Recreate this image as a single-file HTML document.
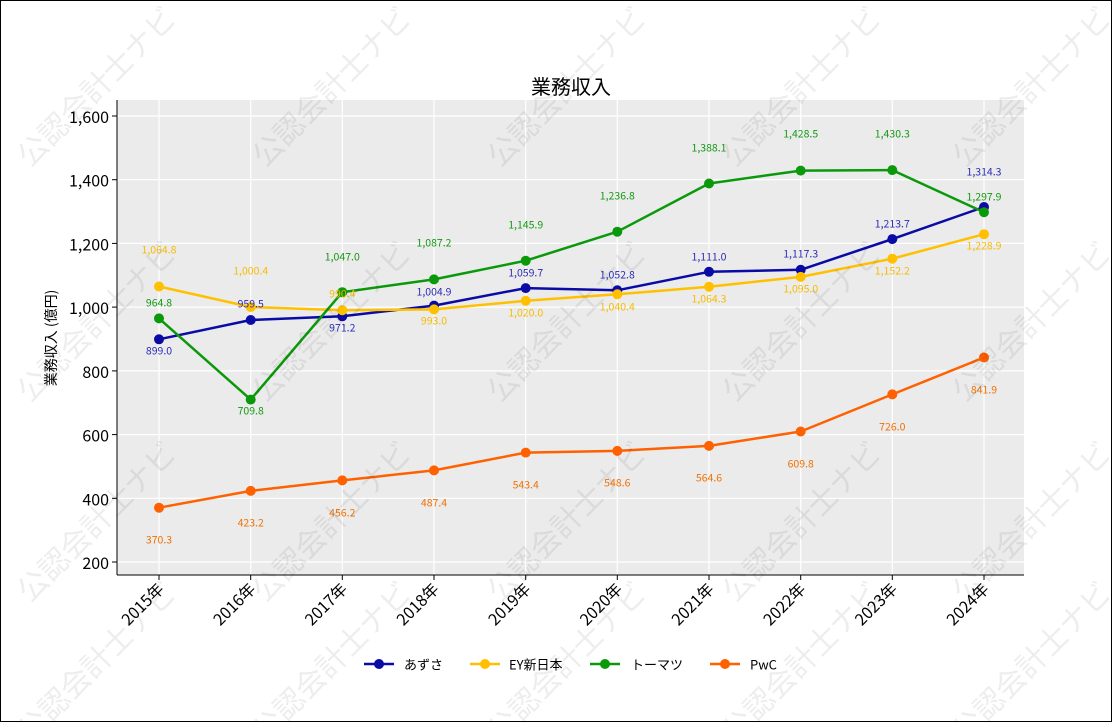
<!DOCTYPE html>
<html><head><meta charset="utf-8"><style>
html,body{margin:0;padding:0;background:#fff;}
svg{display:block;font-family:"Noto Sans CJK JP","Liberation Sans",sans-serif;}
</style></head><body>
<svg width="1112" height="722" viewBox="0 0 1112 722" xmlns="http://www.w3.org/2000/svg">
<rect x="0.5" y="0.5" width="1111" height="721" fill="#fff" stroke="#000" stroke-width="1"/>
<rect x="117" y="100" width="907" height="475" fill="#ebebeb"/>
<g stroke="#fff" stroke-width="1.2">
<line x1="117" x2="1024" y1="116" y2="116"/><line x1="117" x2="1024" y1="179.7" y2="179.7"/><line x1="117" x2="1024" y1="243.4" y2="243.4"/><line x1="117" x2="1024" y1="307.1" y2="307.1"/><line x1="117" x2="1024" y1="370.9" y2="370.9"/><line x1="117" x2="1024" y1="434.6" y2="434.6"/><line x1="117" x2="1024" y1="498.3" y2="498.3"/><line x1="117" x2="1024" y1="562" y2="562"/>
<line y1="100" y2="575" x1="159" x2="159"/><line y1="100" y2="575" x1="250.7" x2="250.7"/><line y1="100" y2="575" x1="342.3" x2="342.3"/><line y1="100" y2="575" x1="434" x2="434"/><line y1="100" y2="575" x1="525.7" x2="525.7"/><line y1="100" y2="575" x1="617.3" x2="617.3"/><line y1="100" y2="575" x1="709" x2="709"/><line y1="100" y2="575" x1="800.7" x2="800.7"/><line y1="100" y2="575" x1="892.3" x2="892.3"/><line y1="100" y2="575" x1="984" x2="984"/>
</g>
<g stroke="#000" stroke-width="1">
<line x1="117" y1="100" x2="117" y2="575"/><line x1="117" y1="575" x2="1024" y2="575"/>
<line x1="112" x2="117" y1="116" y2="116"/><line x1="112" x2="117" y1="179.7" y2="179.7"/><line x1="112" x2="117" y1="243.4" y2="243.4"/><line x1="112" x2="117" y1="307.1" y2="307.1"/><line x1="112" x2="117" y1="370.9" y2="370.9"/><line x1="112" x2="117" y1="434.6" y2="434.6"/><line x1="112" x2="117" y1="498.3" y2="498.3"/><line x1="112" x2="117" y1="562" y2="562"/>
<line y1="575" y2="580" x1="159" x2="159"/><line y1="575" y2="580" x1="250.7" x2="250.7"/><line y1="575" y2="580" x1="342.3" x2="342.3"/><line y1="575" y2="580" x1="434" x2="434"/><line y1="575" y2="580" x1="525.7" x2="525.7"/><line y1="575" y2="580" x1="617.3" x2="617.3"/><line y1="575" y2="580" x1="709" x2="709"/><line y1="575" y2="580" x1="800.7" x2="800.7"/><line y1="575" y2="580" x1="892.3" x2="892.3"/><line y1="575" y2="580" x1="984" x2="984"/>
</g>
<g font-size="16" fill="#000" text-anchor="end" dominant-baseline="central">
<text x="109" y="116">1,600</text><text x="109" y="179.7">1,400</text><text x="109" y="243.4">1,200</text><text x="109" y="307.1">1,000</text><text x="109" y="370.9">800</text><text x="109" y="434.6">600</text><text x="109" y="498.3">400</text><text x="109" y="562">200</text>
</g>
<g font-size="16" fill="#000" text-anchor="end">
<text transform="translate(165,590) rotate(-45)">2015年</text>
<text transform="translate(256.7,590) rotate(-45)">2016年</text>
<text transform="translate(348.3,590) rotate(-45)">2017年</text>
<text transform="translate(440,590) rotate(-45)">2018年</text>
<text transform="translate(531.7,590) rotate(-45)">2019年</text>
<text transform="translate(623.3,590) rotate(-45)">2020年</text>
<text transform="translate(715,590) rotate(-45)">2021年</text>
<text transform="translate(806.7,590) rotate(-45)">2022年</text>
<text transform="translate(898.3,590) rotate(-45)">2023年</text>
<text transform="translate(990,590) rotate(-45)">2024年</text>
</g>
<text x="571" y="94" font-size="20" text-anchor="middle" fill="#000">業務収入</text>
<text transform="translate(56,338) rotate(-90)" font-size="14" text-anchor="middle" fill="#000">業務収入 (億円)</text>

<g fill="none" stroke-width="2.5" stroke-linejoin="round">
<polyline stroke="#0a0aa5" points="159,339.3 250.7,320 342.3,316.3 434,305.6 525.7,288.1 617.3,290.3 709,271.8 800.7,269.8 892.3,239.1 984,207"/>
<polyline stroke="#ffc000" points="159,286.5 250.7,307 342.3,310.2 434,309.4 525.7,300.8 617.3,294.3 709,286.7 800.7,276.9 892.3,258.7 984,234.2"/>
<polyline stroke="#0a990a" points="159,318.4 250.7,399.6 342.3,292.2 434,279.4 525.7,260.7 617.3,231.7 709,183.5 800.7,170.6 892.3,170.1 984,212.2"/>
<polyline stroke="#ff6000" points="159,507.7 250.7,490.9 342.3,480.4 434,470.4 525.7,452.6 617.3,450.9 709,445.9 800.7,431.5 892.3,394.4 984,357.5"/>
</g>
<g fill="#0a0aa5"><circle cx="159" cy="339.3" r="5"/><circle cx="250.7" cy="320" r="5"/><circle cx="342.3" cy="316.3" r="5"/><circle cx="434" cy="305.6" r="5"/><circle cx="525.7" cy="288.1" r="5"/><circle cx="617.3" cy="290.3" r="5"/><circle cx="709" cy="271.8" r="5"/><circle cx="800.7" cy="269.8" r="5"/><circle cx="892.3" cy="239.1" r="5"/><circle cx="984" cy="207" r="5"/></g>
<g fill="#ffc000"><circle cx="159" cy="286.5" r="5"/><circle cx="250.7" cy="307" r="5"/><circle cx="342.3" cy="310.2" r="5"/><circle cx="434" cy="309.4" r="5"/><circle cx="525.7" cy="300.8" r="5"/><circle cx="617.3" cy="294.3" r="5"/><circle cx="709" cy="286.7" r="5"/><circle cx="800.7" cy="276.9" r="5"/><circle cx="892.3" cy="258.7" r="5"/><circle cx="984" cy="234.2" r="5"/></g>
<g fill="#0a990a"><circle cx="159" cy="318.4" r="5"/><circle cx="250.7" cy="399.6" r="5"/><circle cx="342.3" cy="292.2" r="5"/><circle cx="434" cy="279.4" r="5"/><circle cx="525.7" cy="260.7" r="5"/><circle cx="617.3" cy="231.7" r="5"/><circle cx="709" cy="183.5" r="5"/><circle cx="800.7" cy="170.6" r="5"/><circle cx="892.3" cy="170.1" r="5"/><circle cx="984" cy="212.2" r="5"/></g>
<g fill="#ff6000"><circle cx="159" cy="507.7" r="5"/><circle cx="250.7" cy="490.9" r="5"/><circle cx="342.3" cy="480.4" r="5"/><circle cx="434" cy="470.4" r="5"/><circle cx="525.7" cy="452.6" r="5"/><circle cx="617.3" cy="450.9" r="5"/><circle cx="709" cy="445.9" r="5"/><circle cx="800.7" cy="431.5" r="5"/><circle cx="892.3" cy="394.4" r="5"/><circle cx="984" cy="357.5" r="5"/></g>

<g font-size="10.5" text-anchor="middle" dominant-baseline="central">
<g fill="#2a2ab8"><text x="159" y="351">899.0</text><text x="250.7" y="304">959.5</text><text x="342.3" y="328">971.2</text><text x="434" y="292">1,004.9</text><text x="525.7" y="273">1,059.7</text><text x="617.3" y="275">1,052.8</text><text x="709" y="257">1,111.0</text><text x="800.7" y="254">1,117.3</text><text x="892.3" y="224">1,213.7</text><text x="984" y="172">1,314.3</text></g>
<g fill="#f5bb00"><text x="159" y="250">1,064.8</text><text x="250.7" y="271">1,000.4</text><text x="342.3" y="294">990.4</text><text x="434" y="321">993.0</text><text x="525.7" y="313">1,020.0</text><text x="617.3" y="307">1,040.4</text><text x="709" y="299">1,064.3</text><text x="800.7" y="289">1,095.0</text><text x="892.3" y="271">1,152.2</text><text x="984" y="246">1,228.9</text></g>
<g fill="#119911"><text x="159" y="303">964.8</text><text x="250.7" y="411">709.8</text><text x="342.3" y="257">1,047.0</text><text x="434" y="243">1,087.2</text><text x="525.7" y="225">1,145.9</text><text x="617.3" y="196">1,236.8</text><text x="709" y="148">1,388.1</text><text x="800.7" y="134">1,428.5</text><text x="892.3" y="134">1,430.3</text><text x="984" y="197">1,297.9</text></g>
<g fill="#f07000"><text x="159" y="540">370.3</text><text x="250.7" y="523">423.2</text><text x="342.3" y="513">456.2</text><text x="434" y="503">487.4</text><text x="525.7" y="485">543.4</text><text x="617.3" y="483">548.6</text><text x="709" y="478">564.6</text><text x="800.7" y="464">609.8</text><text x="892.3" y="427">726.0</text><text x="984" y="390">841.9</text></g>
</g>

<g stroke-width="2.5">
<line x1="364" x2="394" y1="664" y2="664" stroke="#0a0aa5"/><circle cx="379" cy="664" r="5" fill="#0a0aa5"/>
<line x1="470" x2="500" y1="664" y2="664" stroke="#ffc000"/><circle cx="485" cy="664" r="5" fill="#ffc000"/>
<line x1="590" x2="620" y1="664" y2="664" stroke="#0a990a"/><circle cx="605" cy="664" r="5" fill="#0a990a"/>
<line x1="710" x2="740" y1="664" y2="664" stroke="#ff6000"/><circle cx="725" cy="664" r="5" fill="#ff6000"/>
</g>
<g font-size="13" fill="#000" dominant-baseline="central">
<text x="404" y="664">あずさ</text><text x="509" y="664">EY新日本</text><text x="631" y="664">トーマツ</text><text x="750" y="664">PwC</text>
</g>

<g font-size="30" fill="#000" fill-opacity="0.07" text-anchor="middle" dominant-baseline="central">
<text transform="translate(95,85) rotate(-45)">公認会計士ナビ</text>
<text transform="translate(330,85) rotate(-45)">公認会計士ナビ</text>
<text transform="translate(565,85) rotate(-45)">公認会計士ナビ</text>
<text transform="translate(800,85) rotate(-45)">公認会計士ナビ</text>
<text transform="translate(1030,85) rotate(-45)">公認会計士ナビ</text>
<text transform="translate(95,320) rotate(-45)">公認会計士ナビ</text>
<text transform="translate(330,320) rotate(-45)">公認会計士ナビ</text>
<text transform="translate(565,320) rotate(-45)">公認会計士ナビ</text>
<text transform="translate(800,320) rotate(-45)">公認会計士ナビ</text>
<text transform="translate(1030,320) rotate(-45)">公認会計士ナビ</text>
<text transform="translate(95,520) rotate(-45)">公認会計士ナビ</text>
<text transform="translate(330,520) rotate(-45)">公認会計士ナビ</text>
<text transform="translate(565,520) rotate(-45)">公認会計士ナビ</text>
<text transform="translate(800,520) rotate(-45)">公認会計士ナビ</text>
<text transform="translate(1030,520) rotate(-45)">公認会計士ナビ</text>
<text transform="translate(95,660) rotate(-45)">公認会計士ナビ</text>
<text transform="translate(330,660) rotate(-45)">公認会計士ナビ</text>
<text transform="translate(565,660) rotate(-45)">公認会計士ナビ</text>
<text transform="translate(800,660) rotate(-45)">公認会計士ナビ</text>
<text transform="translate(1030,660) rotate(-45)">公認会計士ナビ</text>
</g>
</svg>
</body></html>
